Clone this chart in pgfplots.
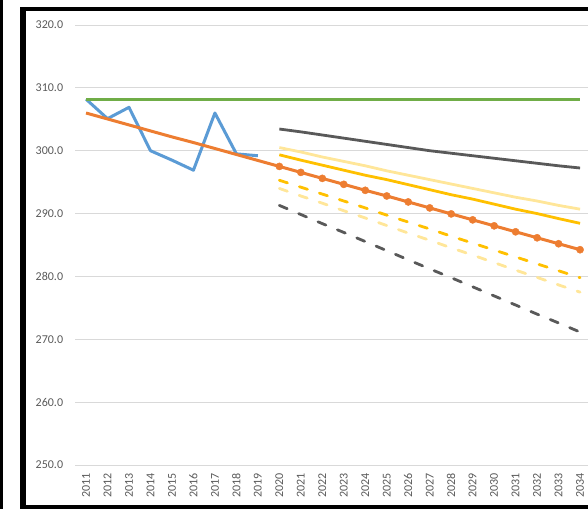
\documentclass[border=0pt]{standalone}
\usepackage{fontspec}
\setmainfont{Carlito}
\usepackage{pgfplots}
\pgfplotsset{compat=1.18}

\definecolor{cblue}{HTML}{5B9BD5}
\definecolor{corange}{HTML}{ED7D31}
\definecolor{cgreen}{HTML}{70AD47}
\definecolor{cgray}{HTML}{595959}
\definecolor{cgold}{HTML}{FFC000}
\definecolor{clight}{HTML}{FFE699}
\definecolor{cgrid}{HTML}{D9D9D9}
\definecolor{clabel}{HTML}{595959}

\begin{document}
\begin{tikzpicture}[x=1pt,y=1pt]
\useasboundingbox (0,0) rectangle (588,509);
\clip (0,0) rectangle (588,509);
% frame pieces of the screenshot
\fill[black] (0,0) rectangle (2.7,509);
\fill[black] (20,0) rectangle (26,501.5);
\fill[black] (20,497.5) rectangle (588,501.5);
\fill[black] (20,0) rectangle (588,4);

\begin{axis}[
    at={(75.3pt,44pt)}, anchor=south west,
    scale only axis,
    width=515.5pt, height=440pt,
    xmin=2010.5, xmax=2034.5,
    ymin=250, ymax=320,
    xtick={2011,2012,...,2034},
    ytick={250,260,...,320},
    ymajorgrids,
    grid style={cgrid, line width=0.9pt},
    axis line style={draw=none},
    major tick length=0pt,
    clip=false,
    tick label style={font=\fontsize{12}{14}\selectfont, text=clabel, inner sep=0pt},
    yticklabel style={xshift=-12pt, anchor=east,
        /pgf/number format/fixed, /pgf/number format/fixed zerofill,
        /pgf/number format/precision=1},
    xticklabel style={yshift=-8pt, rotate=90, anchor=east,
        /pgf/number format/1000 sep={}},
    /pgf/number format/assume math mode=true,
    dashed line/.style={line width=2.8pt, line cap=round, dash pattern=on 8.5pt off 12.5pt},
]
% actual
\addplot[cblue, line width=3pt, line join=round] coordinates {
  (2011,308.2) (2012,305.1) (2013,306.9) (2014,300.0) (2015,298.5)
  (2016,296.9) (2017,306.0) (2018,299.5) (2019,299.2)
};
% constant
\addplot[cgreen, line width=3pt] coordinates {
  (2011,308.1) (2034,308.1)
};
% upper scenario solid
\addplot[cgray, line width=2.8pt] coordinates {
  (2020,303.45) (2021,303.0) (2022,302.5) (2023,302.0) (2024,301.5)
  (2025,301.0) (2026,300.5) (2027,300.0) (2028,299.6) (2029,299.2)
  (2030,298.8) (2031,298.4) (2032,298.0) (2033,297.6) (2034,297.25)
};
\addplot[clight, line width=2.8pt] coordinates {
  (2020,300.5) (2021,299.8) (2022,299.0) (2023,298.3) (2024,297.6)
  (2025,296.8) (2026,296.1) (2027,295.4) (2028,294.7) (2029,294.0)
  (2030,293.3) (2031,292.6) (2032,292.0) (2033,291.3) (2034,290.7)
};
\addplot[cgold, line width=2.8pt] coordinates {
  (2020,299.35) (2021,298.5) (2022,297.7) (2023,296.9) (2024,296.1)
  (2025,295.4) (2026,294.6) (2027,293.8) (2028,293.0) (2029,292.3)
  (2030,291.5) (2031,290.7) (2032,290.0) (2033,289.2) (2034,288.45)
};
% dashed scenarios
\addplot[cgold, dashed line] coordinates {
  (2020,295.3) (2021,294.2) (2022,293.1) (2023,292.0) (2024,290.9)
  (2025,289.75) (2026,288.65) (2027,287.55) (2028,286.4) (2029,285.3)
  (2030,284.2) (2031,283.1) (2032,282.0) (2033,280.9) (2034,279.8)
};
\addplot[clight, dashed line] coordinates {
  (2020,294.0) (2021,292.8) (2022,291.65) (2023,290.45) (2024,289.3)
  (2025,288.1) (2026,286.9) (2027,285.75) (2028,284.55) (2029,283.4)
  (2030,282.2) (2031,281.0) (2032,279.85) (2033,278.65) (2034,277.5)
};
\addplot[cgray, dashed line] coordinates {
  (2020,291.3) (2021,289.85) (2022,288.4) (2023,287.0) (2024,285.55)
  (2025,284.1) (2026,282.65) (2027,281.2) (2028,279.8) (2029,278.35)
  (2030,276.9) (2031,275.45) (2032,274.0) (2033,272.6) (2034,271.15)
};
% trend
\addplot[corange, line width=3pt] coordinates {
  (2011,306.0) (2012,305.05) (2013,304.1) (2014,303.15) (2015,302.2)
  (2016,301.3) (2017,300.35) (2018,299.4) (2019,298.45) (2020,297.5)
  (2021,296.55) (2022,295.6) (2023,294.65) (2024,293.7) (2025,292.8)
  (2026,291.85) (2027,290.9) (2028,289.95) (2029,289.0) (2030,288.05)
  (2031,287.1) (2032,286.15) (2033,285.2) (2034,284.25)
};
\addplot[corange, only marks, mark=*, mark size=3.6pt] coordinates {
  (2020,297.5) (2021,296.55) (2022,295.6) (2023,294.65) (2024,293.7)
  (2025,292.8) (2026,291.85) (2027,290.9) (2028,289.95) (2029,289.0)
  (2030,288.05) (2031,287.1) (2032,286.15) (2033,285.2) (2034,284.25)
};
\end{axis}
\end{tikzpicture}
\end{document}
